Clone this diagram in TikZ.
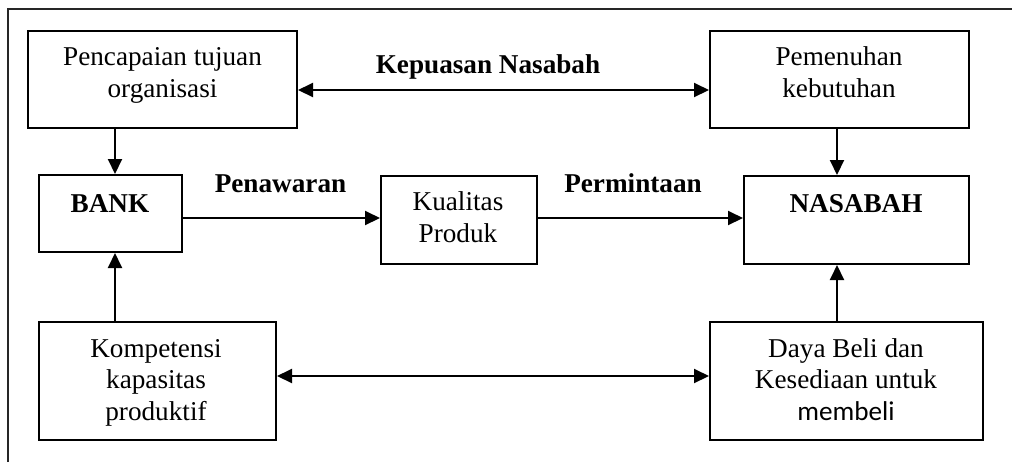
\documentclass[tikz,border=0pt]{standalone}
\usepackage{fontspec}
\setmainfont{Liberation Serif}
\newfontfamily\carlito{Carlito}
\usetikzlibrary{arrows.meta}
\begin{document}
\begin{tikzpicture}[x=0.5pt,y=-0.5pt,
  every node/.style={font=\fontsize{13.6}{15.75}\selectfont},
  boxx/.style={draw,line width=1pt,inner sep=0pt,anchor=north west},
  txt/.style={anchor=base,align=center,inner sep=0pt},
  lbl/.style={anchor=base,inner sep=0pt,font=\fontsize{13.6}{15.75}\selectfont\bfseries},
  arr/.style={line width=1pt,-{Triangle[length=7.5pt,width=7pt]}},
  darr/.style={line width=1pt,{Triangle[length=7.5pt,width=7pt]}-{Triangle[length=7.5pt,width=7pt]}}]
\useasboundingbox (0,0) rectangle (1012,462);
\draw[line width=1pt,black!85] (8,462) -- (8,9) -- (1012,9);
% boxes
\node[boxx,minimum width=134.5pt,minimum height=48.5pt] (b1) at (27,30) {};
\node[boxx,minimum width=129.5pt,minimum height=48.5pt] (b2) at (709,30) {};
\node[boxx,minimum width=71.5pt,minimum height=38.5pt] (bank) at (38,174) {};
\node[boxx,minimum width=78pt,minimum height=44pt] (kual) at (380,175) {};
\node[boxx,minimum width=112.5pt,minimum height=44pt] (nas) at (743,175) {};
\node[boxx,minimum width=118.5pt,minimum height=59pt] (komp) at (38,321) {};
\node[boxx,minimum width=136.5pt,minimum height=59pt] (daya) at (709,321) {};
% texts (anchor=base is the baseline of the last line)
\node[txt] (t1) at (162.5,97) {Pencapaian tujuan\\organisasi};
\node[txt] (t2) at (839,97) {Pemenuhan\\kebutuhan};
\node[txt,font=\fontsize{13.6}{15.75}\selectfont\bfseries] (tbank) at (110,212) {BANK};
\node[txt,font=\fontsize{13.6}{15.75}\selectfont\bfseries] (tnas) at (856,212) {NASABAH};
\node[txt] (tkual) at (458,242) {Kualitas\\Produk};
\node[txt] (tkomp) at (156,420) {Kompetensi\\kapasitas\\produktif};
\node[txt] (tdaya) at (846,420) {Daya Beli dan\\Kesediaan untuk\\{\carlito membeli}};
% labels
\node[lbl] (lkep) at (488,73) {Kepuasan Nasabah};
\node[lbl] (lpen) at (280.5,192) {Penawaran};
\node[lbl] (lper) at (633,192) {Permintaan};
% connectors
\draw[darr] ([yshift=-5.25pt]b1.east) -- ([yshift=-5.25pt]b1.east -| b2.west);
\draw[arr] ([xshift=2.25pt]bank.north |- b1.south) -- ([xshift=2.25pt]bank.north);
\draw[arr] ([xshift=2.25pt]bank.south |- komp.north) -- ([xshift=2.25pt]bank.south);
\draw[arr] ([xshift=-1.25pt]b2.south) -- ([xshift=-1.25pt]b2.south |- nas.north);
\draw[arr] ([xshift=-1.25pt]b2.south |- daya.north) -- ([xshift=-1.25pt]b2.south |- nas.south);
\draw[arr] ([yshift=1pt]kual.west -| bank.east) -- ([yshift=1pt]kual.west);
\draw[arr] ([yshift=1pt]kual.east) -- ([yshift=1pt]kual.east -| nas.west);
\draw[darr] ([yshift=2.5pt]komp.east) -- ([yshift=2.5pt]komp.east -| daya.west);
\end{tikzpicture}
\end{document}
